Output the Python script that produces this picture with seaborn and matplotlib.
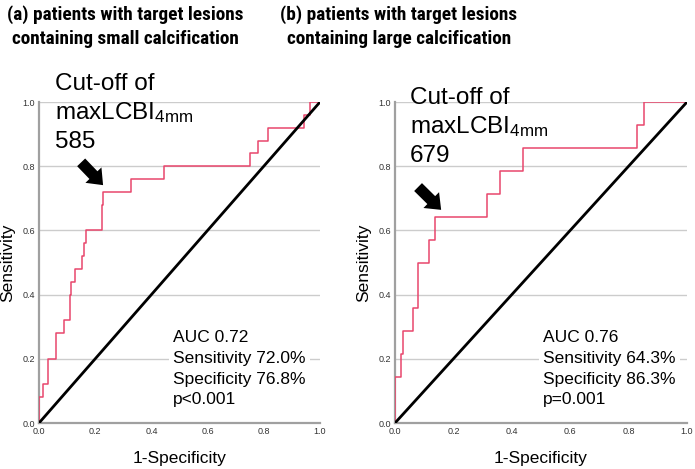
import matplotlib
matplotlib.use("Agg")
import matplotlib.pyplot as plt
import seaborn as sns
import pandas as pd

sns.set_style("white")
plt.rcParams['font.family'] = ['Liberation Sans', 'DejaVu Sans']
plt.rcParams['mathtext.fontset'] = 'custom'
plt.rcParams['mathtext.rm'] = 'Liberation Sans'
plt.rcParams['mathtext.default'] = 'regular'
plt.rcParams['text.color'] = 'black'
plt.rcParams['axes.labelcolor'] = 'black'

# ---- data ----
fpr_a = [0, 0.013, 0.031, 0.062, 0.09, 0.111, 0.115, 0.128, 0.152, 0.16, 0.166,
         0.223, 0.229, 0.327, 0.446, 0.751, 0.78, 0.816, 0.943, 0.964, 1.0]
tpr_a = [0, 0.08, 0.12, 0.20, 0.28, 0.32, 0.40, 0.44, 0.48, 0.52, 0.56,
         0.60, 0.68, 0.72, 0.76, 0.80, 0.84, 0.88, 0.92, 0.96, 1.0]
fpr_b = [0, 0.0196, 0.029, 0.06, 0.08, 0.115, 0.137, 0.314, 0.36, 0.44, 0.83, 0.854, 1.0]
tpr_b = [0, 0.143, 0.214, 0.286, 0.357, 0.5, 0.571, 0.643, 0.714, 0.786, 0.857, 0.929, 1.0]

titles = ["(a) patients with target lesions\ncontaining small calcification",
          "(b) patients with target lesions\ncontaining large calcification"]
cutoffs = ["585", "679"]
stats_a = ["AUC 0.72", "Sensitivity 72.0%", "Specificity 76.8%", "p<0.001"]
stats_b = ["AUC 0.76", "Sensitivity 64.3%", "Specificity 86.3%", "p=0.001"]
ticks = [0.0, 0.2, 0.4, 0.6, 0.8, 1.0]
tick_labels = ["0.0", "0.2", "0.4", "0.6", "0.8", "1.0"]
arrow_tip = [(0.228, 0.741), (0.158, 0.664)]
arrow_tail = [(0.150, 0.812), (0.079, 0.735)]

W, H = 695, 469
fig = plt.figure(figsize=(W / 100, H / 100), dpi=100)
axes_px = [(39, 102, 281, 321), (395, 102, 292, 321)]
curve_color = "#E8466C"

panels = [(fpr_a, tpr_a, stats_a), (fpr_b, tpr_b, stats_b)]
cut_pos = [(55, 84), (410, 98)]
stat_pos = [(173, 336), (543, 336)]
title_x = [125, 399]
title_fam = ['Roboto Condensed', 'Liberation Sans', 'DejaVu Sans']

for i, (fpr, tpr, stats) in enumerate(panels):
    l, t, w, h = axes_px[i]
    ax = fig.add_axes([l / W, (H - t - h) / H, w / W, h / H])
    df = pd.DataFrame({"fpr": fpr, "tpr": tpr})
    sns.lineplot(data=df, x="fpr", y="tpr", ax=ax, estimator=None, sort=False,
                 color=curve_color, lw=1.1, drawstyle="steps-pre", zorder=3)
    diag = pd.DataFrame({"x": [0, 1], "y": [0, 1]})
    sns.lineplot(data=diag, x="x", y="y", ax=ax, color="black", lw=2.0, zorder=4)
    ax.set_xlim(0, 1)
    ax.set_ylim(0, 1)
    ax.set_xticks(ticks)
    ax.set_xticklabels(tick_labels)
    ax.set_yticks(ticks)
    ax.set_yticklabels(tick_labels)
    ax.tick_params(axis="both", length=0, labelsize=6.5, colors="#333333", pad=3)
    ax.yaxis.grid(True, color="#cccccc", lw=1.0)
    ax.xaxis.grid(False)
    ax.set_axisbelow(True)
    for s in ["top", "right"]:
        ax.spines[s].set_visible(False)
    for s in ["left", "bottom"]:
        ax.spines[s].set_color("#a0a0a0")
        ax.spines[s].set_linewidth(1.6)
    ax.set_xlabel("1-Specificity", fontsize=12.5, labelpad=11)
    ax.set_ylabel("Sensitivity", fontsize=12.5, labelpad=5)
    ax.patch.set_alpha(0)

    ax.annotate("", xy=arrow_tip[i], xytext=arrow_tail[i],
                arrowprops=dict(arrowstyle="simple,head_length=1.0,head_width=1.6,tail_width=0.8",
                                mutation_scale=10, color="black", lw=0,
                                shrinkA=0, shrinkB=0), zorder=6)

    # cut-off text
    cx, cy = cut_pos[i]
    lines = ["Cut-off of", "maxLCBI$_{4mm}$", cutoffs[i]]
    sp = 29
    for k, s in enumerate(lines):
        fig.text(cx / W, 1 - (cy + k * sp) / H, s, fontsize=17.5, ha="left", va="center")

    sx, sy = stat_pos[i]
    fig.text(sx / W, 1 - (sy - 6) / H, "\n".join(stats), fontsize=12.5, ha="left", va="top",
             linespacing=1.48,
             bbox=dict(facecolor="white", edgecolor="none", pad=3), zorder=5)

    fig.text(title_x[i] / W, 1 - 26.5 / H, titles[i], fontsize=13.9, fontweight="bold",
             ha="center", va="center", linespacing=1.38,
             family=title_fam)

fig.savefig("out.png", dpi=100)
